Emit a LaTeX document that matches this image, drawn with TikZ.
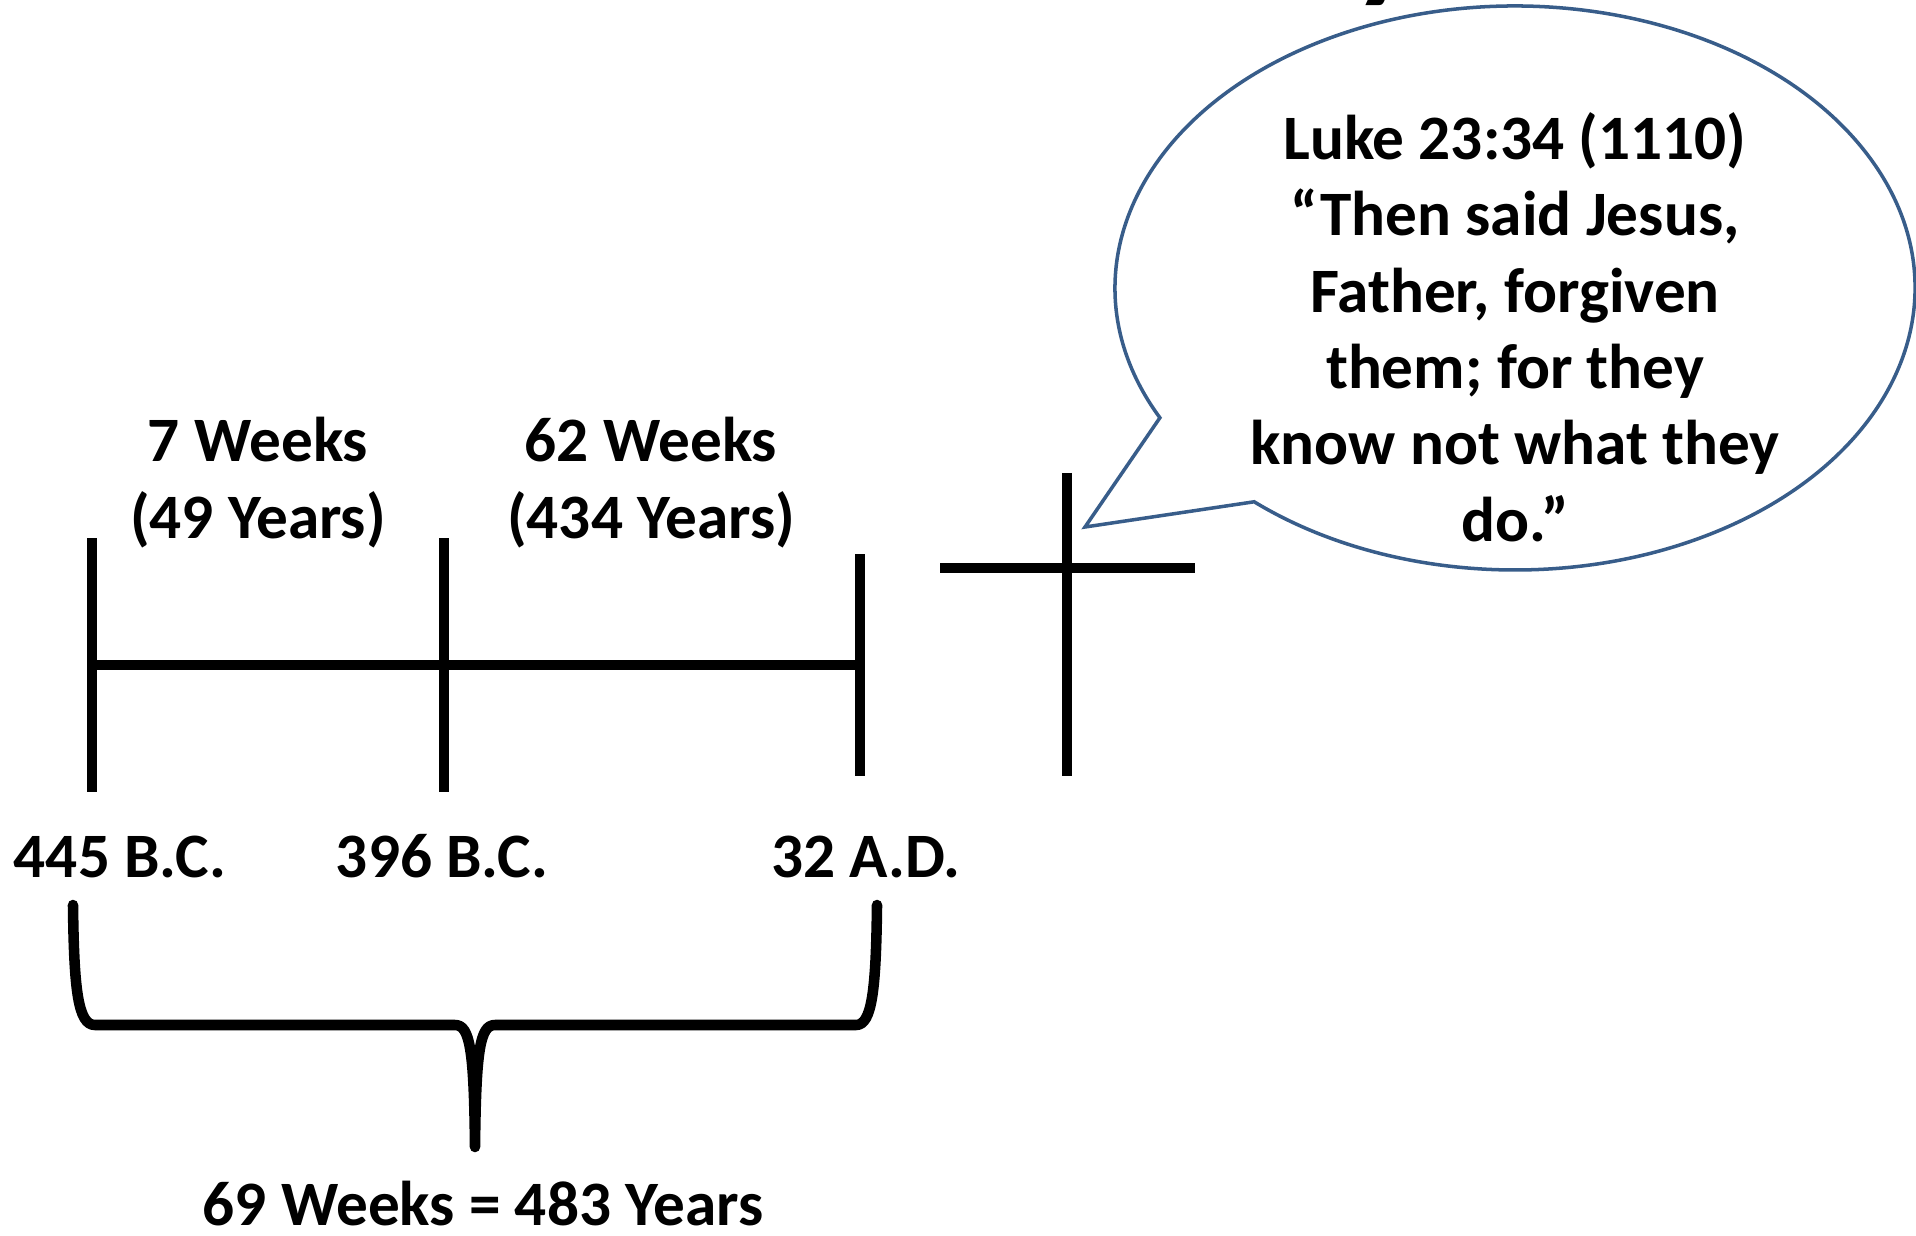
\documentclass[tikz,border=0pt]{standalone}
\usepackage{fontspec}
\setmainfont{Carlito}
\usepackage{tikz}
\usepackage{xcolor}
\usetikzlibrary{positioning}
\definecolor{bubbleblue}{RGB}{56, 93, 138}

\begin{document}
\begin{tikzpicture}[
    x=0.1mm, y=-0.1mm,
    every node/.style={align=center, inner sep=0pt, font=\bfseries\fontsize{18}{21.7}\selectfont},
    timeline/.style={line width=3pt},
    bracestroke/.style={line width=3pt, line join=round, line cap=round},
    bubble/.style={draw=bubbleblue, line width=1pt, fill=white},
    textline/.style={anchor=base}
]
\useasboundingbox (0,0) rectangle (1916,1235);

% Title fragment cut off at the top
\node[anchor=base west, font=\bfseries\fontsize{40}{48}\selectfont] (title_tail) at (1352,-16) {y};

% Timeline
\coordinate (tick1) at (92,665);
\coordinate (tick2) at (444,665);
\coordinate (tick3) at (860,665);
\draw[timeline] (tick1) -- (tick2) -- (tick3);
\draw[timeline] (92,538) -- (92,792);
\draw[timeline] (444,538) -- (444,792);
\draw[timeline] (860,554) -- (860,776);

% Cross
\coordinate (cross) at (1067,568);
\draw[timeline] (1067,473) -- (1067,776);
\draw[timeline] (940,568) -- (1195,568);

% Periods and dates (base = last line)
\node[textline] (seven_weeks) at (258,538) {7 Weeks\\(49 Years)};
\node[textline] (sixtytwo_weeks) at (651,538) {62 Weeks\\(434 Years)};
\node[textline] (date_445) at (120,877) {445 B.C.};
\node[textline] (date_396) at (442,877) {396 B.C.};
\node[textline] (date_32) at (866,877) {32 A.D.};

% Brace under the dates
\coordinate (brace_left) at (73,905);
\coordinate (brace_tip) at (475,1147);
\coordinate (brace_right) at (877,905);
\draw[bracestroke] (brace_left) .. controls (74,990) and (78,1025) .. (95,1025) -- (455,1025)
    .. controls (470,1025) and (474,1050) .. (brace_tip)
    .. controls (476,1050) and (480,1025) .. (495,1025) -- (856,1025)
    .. controls (872,1025) and (876,990) .. (brace_right);
\node[textline] (total) at (483,1225) {69 Weeks = 483 Years};

% Speech bubble
\coordinate (bubble_centre) at (1515,288);
\coordinate (bubble_tip) at (1085,527);
\draw[bubble] (bubble_centre) ++(152.6:400 and 282)
    arc[start angle=152.6, end angle=490.7, x radius=400, y radius=282]
    -- (bubble_tip) -- cycle;
\node[textline] (verse) at (1515,541) {Luke 23:34 (1110)\\“Then said Jesus,\\Father, forgiven\\them; for they\\know not what they\\do.”};

\end{tikzpicture}
\end{document}
